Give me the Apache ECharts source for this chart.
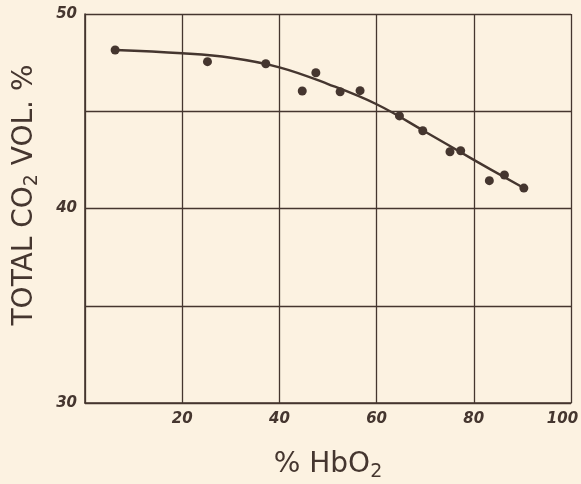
<!DOCTYPE html>
<html><head><meta charset="utf-8">
<script src="https://cdn.jsdelivr.net/npm/echarts@6/dist/echarts.min.js"></script>
<style>html,body{margin:0;padding:0;background:#fcf2e1;}#c{width:581px;height:484px;}</style>
</head><body><div id="c"></div>
<script>
const pointsX = [6.2, 25.2, 37.2, 44.7, 47.5, 52.5, 56.6, 64.7, 69.5, 75.1, 77.3, 83.2, 86.3, 90.3];
const pointsY = [48.15, 47.55, 47.44, 46.04, 46.98, 46.0, 46.06, 44.76, 44.0, 42.92, 42.97, 41.43, 41.72, 41.05];
const curveX = [6.2, 20, 30, 40, 50, 60, 70, 80, 90.3];
const curveY = [48.15, 47.98, 47.75, 47.26, 46.4, 45.36, 43.95, 42.5, 41.05];
const xTicks = [20, 40, 60, 80, 100];
const yTicks = [30, 40, 50];

const ink = '#45362f';
const chart = echarts.init(document.getElementById('c'));
chart.setOption({
  backgroundColor: '#fcf2e1',
  animation: false,
  grid: {left: 85, right: 10, top: 14, bottom: 81, containLabel: false, outerBoundsMode: 'none'},
  xAxis: {
    type: 'value', min: 0, max: 100, interval: 20,
    axisLine: {show: true, lineStyle: {color: ink, width: 1.6}},
    axisTick: {show: false},
    splitLine: {show: true, lineStyle: {color: ink, width: 1.3}},
    axisLabel: {
      formatter: v => !xTicks.includes(v) ? '' : (v === 100 ? '{e|' + v + '}' : String(v)),
      color: ink, fontStyle: 'italic', fontWeight: 'bold', fontSize: 15, fontFamily: 'DejaVu Sans', margin: 9,
      rich: {e: {color: ink, fontStyle: 'italic', fontWeight: 'bold', fontSize: 15, fontFamily: 'DejaVu Sans', padding: [0, 17, 0, 0]}}
    },
    name: '% HbO{s|2}', nameLocation: 'middle', nameGap: 44,
    nameTextStyle: {color: ink, fontSize: 28, fontFamily: 'DejaVu Sans',
      rich: {s: {fontSize: 19, color: ink, fontFamily: 'DejaVu Sans', padding: [16, 0, 0, 0]}}}
  },
  yAxis: {
    type: 'value', min: 30, max: 50, interval: 5,
    axisLine: {show: true, lineStyle: {color: ink, width: 1.6}},
    axisTick: {show: false},
    splitLine: {show: true, lineStyle: {color: ink, width: 1.3}},
    axisLabel: {
      formatter: v => yTicks.includes(v) ? String(v) : '',
      color: ink, fontStyle: 'italic', fontWeight: 'bold', fontSize: 15, fontFamily: 'DejaVu Sans', margin: 8
    }
  },
  graphic: [{
    type: 'text', x: 7, y: 195, rotation: Math.PI / 2,
    style: {
      text: 'TOTAL CO{s|2} VOL. %', fill: ink, font: '28px "DejaVu Sans"',
      align: 'center', verticalAlign: 'top',
      rich: {s: {fontSize: 19, fill: ink, fontFamily: 'DejaVu Sans', padding: [16, 0, 0, 0]}}
    }
  }],
  series: [
    {
      type: 'line', smooth: 0.4, showSymbol: false,
      data: curveX.map((x, i) => [x, curveY[i]]),
      lineStyle: {color: ink, width: 2.4}
    },
    {
      type: 'scatter', symbolSize: 9,
      data: pointsX.map((x, i) => [x, pointsY[i]]),
      itemStyle: {color: ink, opacity: 1}
    }
  ]
});
</script></body></html>
